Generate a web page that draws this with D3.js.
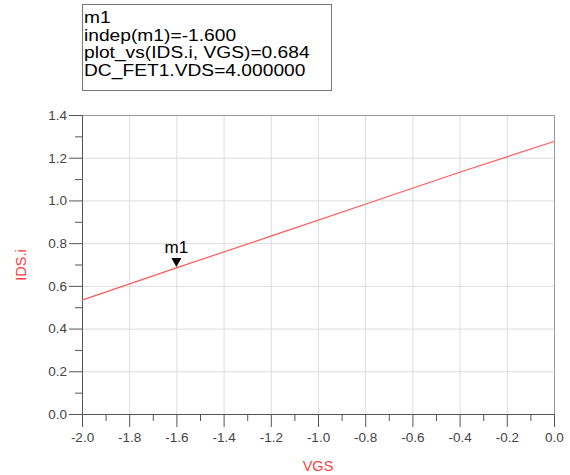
<meta charset="utf-8">
<style>
  body { margin: 0; background: #fff; }
  text { font-family: "Liberation Sans", Arial, sans-serif; }
  .grid line { stroke: #dcdcdc; stroke-width: 1; }
  .tick-label { fill: #444; font-size: 13.5px; }
</style>
<body>
<script src="https://cdn.jsdelivr.net/npm/d3@7/dist/d3.min.js"></script>
<script>
  // values
  const vgs = [-2.0, -1.6, -1.2, -0.8, -0.4, 0.0];
  const ids = [0.533, 0.684, 0.833, 0.982, 1.132, 1.276];
  const xTicks = [-2.0, -1.8, -1.6, -1.4, -1.2, -1.0, -0.8, -0.6, -0.4, -0.2, 0.0];
  const yTicks = [0.0, 0.2, 0.4, 0.6, 0.8, 1.0, 1.2, 1.4];
  const markerName = "m1";
  const markerX = -1.6;
  const markerY = 0.684;
  const markerLines = ["m1", "indep(m1)=-1.600", "plot_vs(IDS.i, VGS)=0.684", "DC_FET1.VDS=4.000000"];

  const margin = { top: 115, right: 16, bottom: 61, left: 82 };
  const width = 570 - margin.left - margin.right;
  const height = 475 - margin.top - margin.bottom;

  const root = d3.select("body").append("svg")
    .attr("width", 570)
    .attr("height", 475);

  const svg = root.append("g")
    .attr("transform", `translate(${margin.left}, ${margin.top})`);

  const x = d3.scaleLinear().domain([-2, 0]).range([0, width]);
  const y = d3.scaleLinear().domain([0, 1.4]).range([height, 0]);

  // plain hyphen for negatives, like the original plot
  const fmt = d => d3.format(".1f")(d).replace("\u2212", "-");

  // grid
  const grid = svg.append("g").attr("class", "grid");
  grid.selectAll(".gx").data(xTicks).join("line")
    .attr("x1", d => x(d) + 0.5).attr("x2", d => x(d) + 0.5)
    .attr("y1", 0).attr("y2", height);
  grid.selectAll(".gy").data(yTicks).join("line")
    .attr("x1", 0).attr("x2", width)
    .attr("y1", d => y(d) + 0.5).attr("y2", d => y(d) + 0.5);

  // frame
  svg.append("rect")
    .attr("x", 0.5).attr("y", 0.5)
    .attr("width", width).attr("height", height)
    .attr("fill", "none").attr("stroke", "#999");

  // axes
  const xAxis = d3.axisBottom(x).tickValues(xTicks).tickSize(13).tickPadding(5).tickFormat(fmt);
  const yAxis = d3.axisLeft(y).tickValues(yTicks).tickSize(13).tickPadding(2).tickFormat(fmt);

  const gx = svg.append("g").attr("transform", `translate(0, ${height})`).call(xAxis);
  const gy = svg.append("g").call(yAxis);

  // minor ticks
  const xMinor = d3.range(xTicks.length - 1).map(i => (xTicks[i] + xTicks[i + 1]) / 2);
  const yMinor = d3.range(yTicks.length - 1).map(i => (yTicks[i] + yTicks[i + 1]) / 2);
  gx.append("g").call(d3.axisBottom(x).tickValues(xMinor).tickSize(7).tickFormat(""));
  gy.append("g").call(d3.axisLeft(y).tickValues(yMinor).tickSize(7).tickFormat(""));

  [gx, gy].forEach(g => {
    g.selectAll("path").attr("stroke", "#555");
    g.selectAll("line").attr("stroke", "#555");
    g.selectAll("text").attr("class", "tick-label")
      .style("font-family", "'Liberation Sans', Arial, sans-serif");
  });

  // trace
  const line = d3.line().x((d, i) => x(vgs[i])).y(d => y(d));
  svg.append("path")
    .datum(ids)
    .attr("d", line)
    .attr("fill", "none")
    .attr("stroke", "#ff5a5a")
    .attr("stroke-width", 1.2);

  // marker
  const mx = x(markerX), my = y(markerY);
  svg.append("path")
    .attr("d", `M${mx - 5},${my - 10} L${mx + 5},${my - 10} L${mx},${my - 1} Z`)
    .attr("fill", "#000");
  svg.append("text")
    .attr("x", mx).attr("y", my - 15)
    .attr("text-anchor", "middle")
    .style("font-size", "17px")
    .text(markerName);

  // axis titles
  root.append("text")
    .attr("transform", "translate(26, 265) rotate(-90)")
    .attr("text-anchor", "middle")
    .attr("fill", "#ff4040")
    .style("font-size", "14.5px")
    .text("IDS.i");
  root.append("text")
    .attr("x", 318).attr("y", 471)
    .attr("text-anchor", "middle")
    .attr("fill", "#ff4040")
    .style("font-size", "14.5px")
    .text("VGS");

  // marker readout box (text is a little wider than Arial in the original)
  root.append("rect")
    .attr("x", 82.5).attr("y", 4.5)
    .attr("width", 249).attr("height", 86)
    .attr("fill", "#fff").attr("stroke", "#777");
  root.append("g")
    .attr("transform", "translate(84, 0) scale(1.13, 1)")
    .selectAll("text").data(markerLines).join("text")
    .attr("x", 0)
    .attr("y", (d, i) => 23.5 + i * 17.4)
    .style("font-size", "17px")
    .attr("fill", "#000")
    .text(d => d);
</script>
</body>
</html>
